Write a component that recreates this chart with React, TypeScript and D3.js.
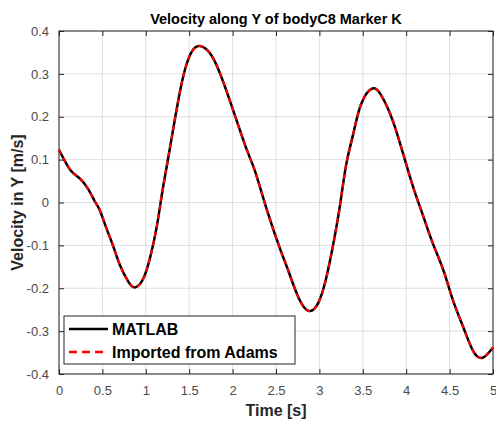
import React, { useEffect, useRef } from 'react';
import * as d3 from 'd3';

// Time samples [s] and velocity along Y [m/s]
const timeS = [
  0, 0.13, 0.24, 0.34, 0.42, 0.47, 0.55, 0.63, 0.7, 0.8, 0.88, 0.97, 1.05, 1.125, 1.18,
  1.24, 1.3, 1.375, 1.45, 1.53, 1.62, 1.74, 1.855, 1.99, 2.16, 2.26, 2.4, 2.55, 2.64,
  2.76, 2.88, 2.99, 3.08, 3.16, 3.24, 3.31, 3.39, 3.48, 3.61, 3.7, 3.76, 3.85, 3.97,
  4.08, 4.2, 4.31, 4.43, 4.54, 4.66, 4.77, 4.88, 5.0,
];
const velocityY = [
  0.123, 0.076, 0.056, 0.03, 0.0, -0.018, -0.062, -0.105, -0.145, -0.185, -0.198,
  -0.178, -0.128, -0.058, 0.012, 0.083, 0.153, 0.239, 0.309, 0.352, 0.365, 0.348,
  0.301, 0.225, 0.125, 0.072, -0.02, -0.11, -0.158, -0.222, -0.253, -0.233, -0.175,
  -0.097, -0.003, 0.09, 0.16, 0.229, 0.266, 0.254, 0.232, 0.188, 0.11, 0.036, -0.034,
  -0.097, -0.159, -0.229, -0.292, -0.346, -0.362, -0.338,
];
const xTicks = [0, 0.5, 1, 1.5, 2, 2.5, 3, 3.5, 4, 4.5, 5];
const yTicks = [-0.4, -0.3, -0.2, -0.1, 0, 0.1, 0.2, 0.3, 0.4];
const seriesNames = ['MATLAB', 'Imported from Adams'];

const W = 496;
const H = 424;

export default function App() {
  const svgRef = useRef<SVGSVGElement>(null);

  useEffect(() => {
    const svg = d3.select(svgRef.current);
    svg.selectAll('*').remove();

    const margin = { top: 31, right: 3, bottom: 50, left: 59 };
    const innerW = W - margin.left - margin.right;
    const innerH = H - margin.top - margin.bottom;
    const font = 'Liberation Sans, Arial, sans-serif';
    const axisColor = '#262626';

    svg.append('rect').attr('width', W).attr('height', H).attr('fill', '#fff');

    const g = svg.append('g').attr('transform', `translate(${margin.left},${margin.top})`);

    const x = d3.scaleLinear().domain([0, 5]).range([0, innerW]);
    const y = d3.scaleLinear().domain([-0.4, 0.4]).range([innerH, 0]);

    // grid
    g.append('g')
      .selectAll('line')
      .data(xTicks)
      .join('line')
      .attr('x1', (d) => x(d)).attr('x2', (d) => x(d))
      .attr('y1', 0).attr('y2', innerH)
      .attr('stroke', '#dfdfdf').attr('stroke-width', 1);
    g.append('g')
      .selectAll('line')
      .data(yTicks)
      .join('line')
      .attr('y1', (d) => y(d)).attr('y2', (d) => y(d))
      .attr('x1', 0).attr('x2', innerW)
      .attr('stroke', '#dfdfdf').attr('stroke-width', 1);

    // axes (ticks inward, MATLAB box style)
    const tickLen = 5;
    const styleAxis = (sel: any) => {
      sel.select('.domain').remove();
      sel.selectAll('line').attr('stroke', axisColor);
      sel.selectAll('text').attr('fill', '#4a4a4a').style('font-family', font).style('font-size', '13px');
    };
    g.append('g')
      .attr('transform', `translate(0,${innerH})`)
      .call(d3.axisBottom(x).tickValues(xTicks).tickSizeInner(-tickLen).tickPadding(12).tickFormat((d: any) => String(d)))
      .call(styleAxis);
    g.append('g')
      .call(d3.axisTop(x).tickValues(xTicks).tickSizeInner(-tickLen).tickFormat(() => ''))
      .call(styleAxis);
    g.append('g')
      .call(d3.axisLeft(y).tickValues(yTicks).tickSizeInner(-tickLen).tickPadding(10).tickFormat((d: any) => String(+d.toFixed(1))))
      .call(styleAxis);
    g.append('g')
      .attr('transform', `translate(${innerW},0)`)
      .call(d3.axisRight(y).tickValues(yTicks).tickSizeInner(-tickLen).tickFormat(() => ''))
      .call(styleAxis);

    g.append('rect')
      .attr('width', innerW).attr('height', innerH)
      .attr('fill', 'none').attr('stroke', axisColor).attr('stroke-width', 1);

    // curves
    const pts = timeS.map((t, i) => [t, velocityY[i]] as [number, number]);
    const line = d3.line<[number, number]>()
      .x((d) => x(d[0]))
      .y((d) => y(d[1]))
      .curve(d3.curveNatural);

    g.append('path').attr('d', line(pts)).attr('fill', 'none')
      .attr('stroke', '#000').attr('stroke-width', 2.5);
    g.append('path').attr('d', line(pts)).attr('fill', 'none')
      .attr('stroke', '#ff0000').attr('stroke-width', 2.2).attr('stroke-dasharray', '5,4');

    // legend
    const lg = svg.append('g').attr('transform', 'translate(64,316)');
    lg.append('rect').attr('width', 231).attr('height', 48)
      .attr('fill', '#fff').attr('stroke', axisColor).attr('stroke-width', 1);
    seriesNames.forEach((name, i) => {
      const cy = 13 + i * 23;
      lg.append('line').attr('x1', 5).attr('x2', 44).attr('y1', cy).attr('y2', cy)
        .attr('stroke', i === 0 ? '#000' : '#ff0000').attr('stroke-width', 2.5)
        .attr('stroke-dasharray', i === 0 ? null : '8,5');
      lg.append('text').attr('x', 48).attr('y', cy + 6)
        .attr('font-family', font).attr('font-size', '16px').attr('font-weight', 'bold')
        .attr('fill', '#000').text(name);
    });

    // titles
    svg.append('text')
      .attr('x', margin.left + innerW / 2).attr('y', 24)
      .attr('text-anchor', 'middle')
      .attr('font-family', font).attr('font-size', '14.5px').attr('font-weight', 'bold')
      .attr('fill', '#000').text('Velocity along Y of bodyC8 Marker K');
    svg.append('text')
      .attr('x', margin.left + innerW / 2).attr('y', 416)
      .attr('text-anchor', 'middle')
      .attr('font-family', font).attr('font-size', '16px').attr('font-weight', 'bold')
      .attr('fill', '#262626').text('Time [s]');
    svg.append('text')
      .attr('transform', `translate(23,${margin.top + innerH / 2}) rotate(-90)`)
      .attr('text-anchor', 'middle')
      .attr('font-family', font).attr('font-size', '16px').attr('font-weight', 'bold')
      .attr('fill', '#262626').text('Velocity in Y [m/s]');
  }, []);

  return (
    <svg ref={svgRef} width={W} height={H} style={{ position: 'absolute', left: 0, top: 0 }} />
  );
}
